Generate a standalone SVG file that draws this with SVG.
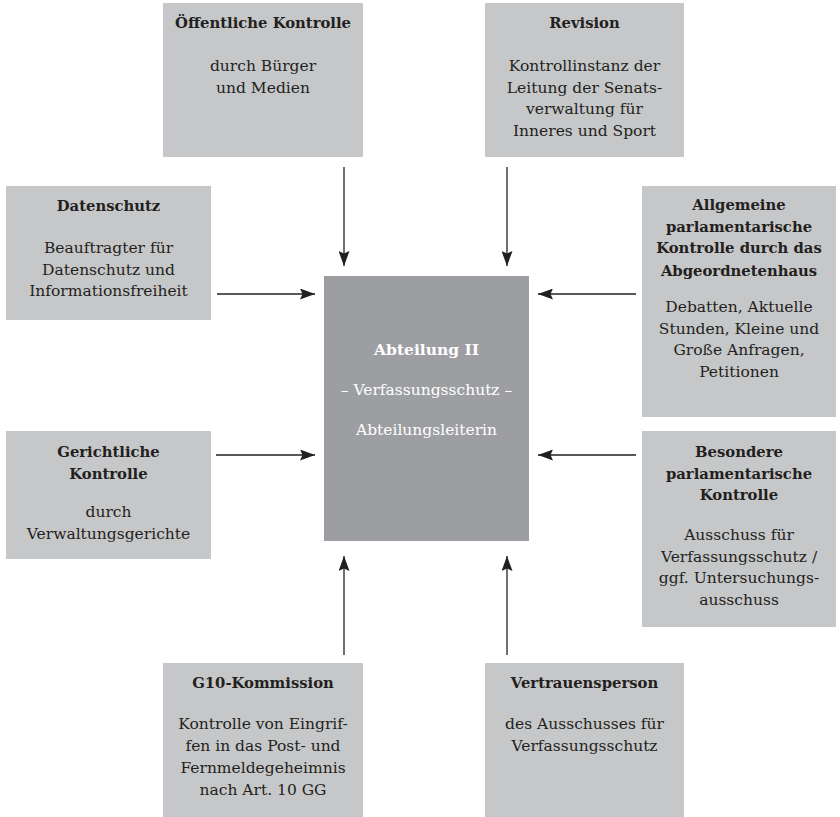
<svg xmlns="http://www.w3.org/2000/svg" width="840" height="817" viewBox="0 0 840 817">
<style>
.box{fill:#c6c7c9}
.main{fill:#9d9ea2}
text{font-family:"DejaVu Serif","Liberation Serif",serif;text-anchor:middle;fill:#231f20}
.t{font-weight:bold;font-size:14.8px}
.b{font-size:15.5px}
.w{fill:#ffffff}
.con line{stroke:#231f20;stroke-width:1.3}
</style>
<defs>
<marker id="ah" viewBox="0 0 15 11" refX="15" refY="5.5" markerWidth="15" markerHeight="11" markerUnits="userSpaceOnUse" orient="auto">
<path d="M0,0 L15,5.5 L0,11 L2.5,5.5 z" fill="#231f20"/>
</marker>
</defs>
<rect width="840" height="817" fill="#ffffff"/>
<g id="oeffentlich">
<rect class="box" x="163" y="3" width="200" height="154"/>
<text class="t" x="263" y="28">Öffentliche Kontrolle</text>
<text class="b" x="263" y="71">durch Bürger</text>
<text class="b" x="263" y="92.5">und Medien</text>
</g>
<g id="revision">
<rect class="box" x="485" y="3" width="199" height="154"/>
<text class="t" x="584.5" y="28">Revision</text>
<text class="b" x="584.5" y="71">Kontrollinstanz der</text>
<text class="b" x="584.5" y="92.5">Leitung der Senats-</text>
<text class="b" x="584.5" y="114">verwaltung für</text>
<text class="b" x="584.5" y="135.5">Inneres und Sport</text>
</g>
<g id="datenschutz">
<rect class="box" x="6" y="186" width="205" height="134"/>
<text class="t" x="108.5" y="211">Datenschutz</text>
<text class="b" x="108.5" y="253">Beauftragter für</text>
<text class="b" x="108.5" y="274.5">Datenschutz und</text>
<text class="b" x="108.5" y="296">Informationsfreiheit</text>
</g>
<g id="allgemeine">
<rect class="box" x="642" y="186" width="194" height="231"/>
<text class="t" x="739" y="210">Allgemeine</text>
<text class="t" x="739" y="231.5">parlamentarische</text>
<text class="t" x="739" y="253">Kontrolle durch das</text>
<text class="t" x="739" y="276">Abgeordnetenhaus</text>
<text class="b" x="739" y="312">Debatten, Aktuelle</text>
<text class="b" x="739" y="333.5">Stunden, Kleine und</text>
<text class="b" x="739" y="355">Große Anfragen,</text>
<text class="b" x="739" y="376.5">Petitionen</text>
</g>
<g id="abteilung">
<rect class="main" x="324" y="276" width="205" height="265"/>
<text class="t w" x="426.5" y="355" style="font-size:15.5px">Abteilung II</text>
<text class="b w" x="426.5" y="395">– Verfassungsschutz –</text>
<text class="b w" x="426.5" y="435">Abteilungsleiterin</text>
</g>
<g id="gerichtlich">
<rect class="box" x="6" y="431" width="205" height="128"/>
<text class="t" x="108.5" y="457">Gerichtliche</text>
<text class="t" x="108.5" y="478.5">Kontrolle</text>
<text class="b" x="108.5" y="517">durch</text>
<text class="b" x="108.5" y="538.5">Verwaltungsgerichte</text>
</g>
<g id="besondere">
<rect class="box" x="642" y="431" width="194" height="196"/>
<text class="t" x="739" y="457">Besondere</text>
<text class="t" x="739" y="478.5">parlamentarische</text>
<text class="t" x="739" y="500">Kontrolle</text>
<text class="b" x="739" y="540">Ausschuss für</text>
<text class="b" x="739" y="561.5">Verfassungsschutz /</text>
<text class="b" x="739" y="583">ggf. Untersuchungs-</text>
<text class="b" x="739" y="604.5">ausschuss</text>
</g>
<g id="g10">
<rect class="box" x="163" y="663" width="200" height="154"/>
<text class="t" x="263" y="688">G10-Kommission</text>
<text class="b" x="263" y="729">Kontrolle von Eingrif-</text>
<text class="b" x="263" y="751">fen in das Post- und</text>
<text class="b" x="263" y="773">Fernmeldegeheimnis</text>
<text class="b" x="263" y="795">nach Art. 10 GG</text>
</g>
<g id="vertrauensperson">
<rect class="box" x="485" y="663" width="199" height="154"/>
<text class="t" x="584.5" y="688">Vertrauensperson</text>
<text class="b" x="584.5" y="729">des Ausschusses für</text>
<text class="b" x="584.5" y="751">Verfassungsschutz</text>
</g>
<g class="con" id="connectors">
<line x1="344" y1="167" x2="344" y2="266" marker-end="url(#ah)"/>
<line x1="507" y1="167" x2="507" y2="266" marker-end="url(#ah)"/>
<line x1="217" y1="294" x2="315" y2="294" marker-end="url(#ah)"/>
<line x1="636" y1="294" x2="538" y2="294" marker-end="url(#ah)"/>
<line x1="216" y1="455" x2="315" y2="455" marker-end="url(#ah)"/>
<line x1="636" y1="455" x2="538" y2="455" marker-end="url(#ah)"/>
<line x1="344" y1="655" x2="344" y2="556" marker-end="url(#ah)"/>
<line x1="507" y1="655" x2="507" y2="556" marker-end="url(#ah)"/>
</g>
</svg>
